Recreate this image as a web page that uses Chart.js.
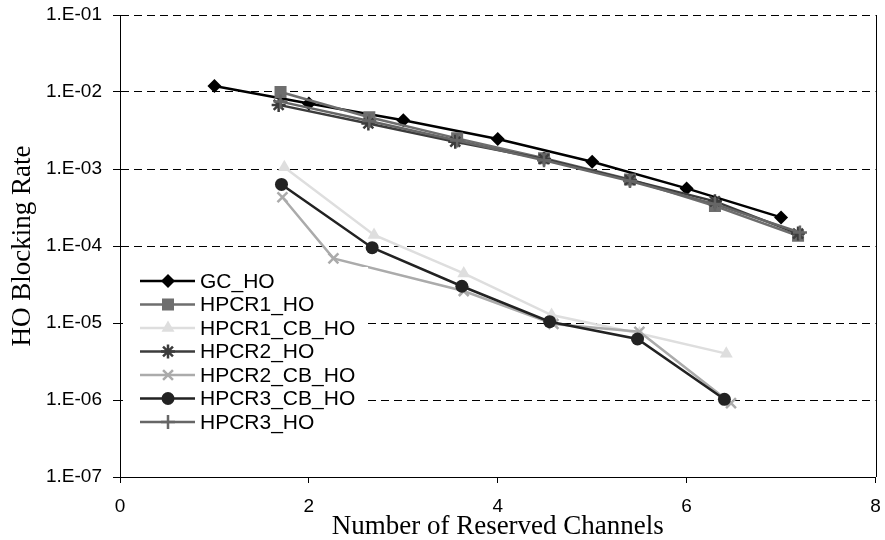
<!DOCTYPE html>
<html>
<head>
<meta charset="utf-8">
<script src="https://cdn.jsdelivr.net/npm/chart.js@4/dist/chart.umd.min.js"></script>
<style>
  html, body { margin: 0; padding: 0; background: #fff; }
  #wrap { width: 885px; height: 540px; position: relative; }
</style>
</head>
<body>
<div id="wrap"><canvas id="blockingChart"></canvas></div>
<script>
// series values: x = reserved channels, y = handoff blocking rate
const seriesNames = ['GC_HO', 'HPCR1_HO', 'HPCR1_CB_HO', 'HPCR2_HO', 'HPCR2_CB_HO', 'HPCR3_CB_HO', 'HPCR3_HO'];

const gcX = [1, 2, 3, 4, 5, 6, 7];
const gcY = [1.2e-2, 7.1e-3, 4.3e-3, 2.45e-3, 1.24e-3, 5.6e-4, 2.35e-4];

const hpcr1X = [1.7, 2.64, 3.57, 4.49, 5.4, 6.3, 7.18];
const hpcr1Y = [1.0e-2, 4.7e-3, 2.5e-3, 1.38e-3, 7.3e-4, 3.3e-4, 1.36e-4];

const hpcr1cbX = [1.74, 2.69, 3.64, 4.57, 5.5, 6.42];
const hpcr1cbY = [1.05e-3, 1.39e-4, 4.4e-5, 1.27e-5, 7.3e-6, 4.0e-6];

const hpcr2X = [1.68, 2.63, 3.55, 4.49, 5.4, 6.3, 7.18];
const hpcr2Y = [6.8e-3, 3.9e-3, 2.26e-3, 1.35e-3, 7.2e-4, 3.8e-4, 1.45e-4];

const hpcr2cbX = [1.72, 2.26, 3.64, 4.59, 5.5, 6.47];
const hpcr2cbY = [4.3e-4, 6.9e-5, 2.6e-5, 9.7e-6, 7.7e-6, 9.1e-7];

const hpcr3cbX = [1.71, 2.67, 3.62, 4.55, 5.48, 6.4];
const hpcr3cbY = [6.3e-4, 9.5e-5, 3.0e-5, 1.04e-5, 6.2e-6, 1.02e-6];

const hpcr3X = [1.7, 2.64, 3.57, 4.49, 5.4, 6.3, 7.2];
const hpcr3Y = [7.5e-3, 4.2e-3, 2.35e-3, 1.3e-3, 7.0e-4, 3.5e-4, 1.5e-4];

const yTicks = [1e-7, 1e-6, 1e-5, 1e-4, 1e-3, 1e-2, 1e-1];
const yTickLabels = ['1.E-07', '1.E-06', '1.E-05', '1.E-04', '1.E-03', '1.E-02', '1.E-01'];

function pts(xs, ys) {
    return xs.map((x, i) => ({ x: x, y: ys[i] }));
}

const styles = [
    { color: '#000000', point: 'rectRot', radius: 7 },
    { color: '#6e6e6e', point: 'rect', radius: 8.5 },
    { color: '#dedede', point: 'triangle', radius: 7.5 },
    { color: '#3c3c3c', point: 'star', radius: 7 },
    { color: '#ababab', point: 'crossRot', radius: 7 },
    { color: '#222222', point: 'circle', radius: 6.5 },
    { color: '#666666', point: 'cross', radius: 7 }
];

const allPoints = [
    pts(gcX, gcY), pts(hpcr1X, hpcr1Y), pts(hpcr1cbX, hpcr1cbY),
    pts(hpcr2X, hpcr2Y), pts(hpcr2cbX, hpcr2cbY), pts(hpcr3cbX, hpcr3cbY),
    pts(hpcr3X, hpcr3Y)
];

const datasets = seriesNames.map((name, i) => {
    const s = styles[i];
    const outlined = ['star', 'cross', 'crossRot'].includes(s.point);
    return {
        label: name,
        data: allPoints[i],
        borderColor: s.color,
        backgroundColor: s.color,
        borderWidth: 2.5,
        pointStyle: s.point,
        pointRadius: s.radius,
        pointBorderWidth: outlined ? 2.5 : 0,
        pointBackgroundColor: s.color,
        pointBorderColor: s.color,
        tension: 0,
        order: seriesNames.length - 1 - i
    };
});

// legend box inside the plot, plus the right frame line
const frameAndLegend = {
    id: 'frameAndLegend',
    afterDraw(chart) {
        const ctx = chart.ctx;
        const area = chart.chartArea;
        ctx.save();
        ctx.strokeStyle = '#000';
        ctx.lineWidth = 1;
        ctx.beginPath();
        ctx.moveTo(Math.round(area.right) + 0.5, area.top);
        ctx.lineTo(Math.round(area.right) + 0.5, area.bottom);
        ctx.stroke();

        // white backing so the grid lines stop at the legend
        ctx.fillStyle = '#fff';
        ctx.fillRect(area.left + 3, 267, 245, 167);

        const x0 = 140, x1 = 195, mx = 168, tx = 200;
        ctx.font = '21px "Liberation Sans", Arial, sans-serif';
        ctx.textBaseline = 'middle';
        ctx.textAlign = 'left';
        chart.data.datasets.forEach((ds, i) => {
            const y = 281 + i * 23.5;
            ctx.strokeStyle = ds.borderColor;
            ctx.lineWidth = ds.borderWidth;
            ctx.setLineDash([]);
            ctx.beginPath();
            ctx.moveTo(x0, y);
            ctx.lineTo(x1, y);
            ctx.stroke();
            ctx.fillStyle = ds.pointBackgroundColor;
            ctx.strokeStyle = ds.pointBorderColor;
            ctx.lineWidth = ds.pointBorderWidth;
            Chart.helpers.drawPoint(ctx, {
                pointStyle: ds.pointStyle,
                radius: ds.pointRadius,
                borderWidth: ds.pointBorderWidth,
                rotation: 0
            }, mx, y);
            ctx.fillStyle = '#000';
            ctx.fillText(ds.label, tx, y + 1);
        });
        ctx.restore();
    }
};

const tickFont = { family: '"Liberation Sans", Arial, sans-serif', size: 19 };
const titleFont = { family: '"Liberation Serif", "Times New Roman", serif', size: 27, lineHeight: 1 };

function noScalePadding(s) {
    s.paddingLeft = 0;
    s.paddingRight = 0;
    s.paddingTop = 0;
    s.paddingBottom = 0;
}

new Chart(document.getElementById('blockingChart'), {
    type: 'line',
    data: { datasets: datasets },
    options: {
        responsive: true,
        maintainAspectRatio: false,
        animation: false,
        devicePixelRatio: 1,
        layout: { padding: { top: 15, right: 7, left: 0, bottom: 0 } },
        plugins: {
            legend: { display: false },
            tooltip: { enabled: false }
        },
        scales: {
            x: {
                type: 'linear',
                min: 0,
                max: 8,
                ticks: { stepSize: 2, color: '#000', font: tickFont, padding: 12, maxRotation: 0 },
                grid: { drawOnChartArea: false, drawTicks: true, tickLength: 6, color: '#000', lineWidth: 1 },
                border: { display: true, color: '#000', width: 1 },
                title: {
                    display: true,
                    text: 'Number of Reserved Channels',
                    color: '#000',
                    font: titleFont,
                    padding: { top: 0, bottom: 0 }
                },
                afterFit: s => { s.height = 63; noScalePadding(s); }
            },
            y: {
                type: 'logarithmic',
                min: 1e-7,
                max: 1e-1,
                afterBuildTicks: axis => { axis.ticks = yTicks.map(v => ({ value: v })); },
                ticks: {
                    color: '#000',
                    font: tickFont,
                    padding: 11,
                    callback: v => {
                        const idx = yTicks.findIndex(t => Math.abs(Math.log10(t) - Math.log10(v)) < 1e-6);
                        return idx >= 0 ? yTickLabels[idx] : '';
                    }
                },
                grid: { color: '#000', lineWidth: 1, drawTicks: true, tickLength: 7 },
                border: { display: true, color: '#000', width: 1, dash: [8, 5] },
                title: {
                    display: true,
                    text: 'HO Blocking Rate',
                    color: '#000',
                    font: titleFont,
                    padding: { top: 9, bottom: 0 }
                },
                afterFit: s => { s.width = 120; noScalePadding(s); }
            }
        }
    },
    plugins: [frameAndLegend]
});
</script>
</body>
</html>
